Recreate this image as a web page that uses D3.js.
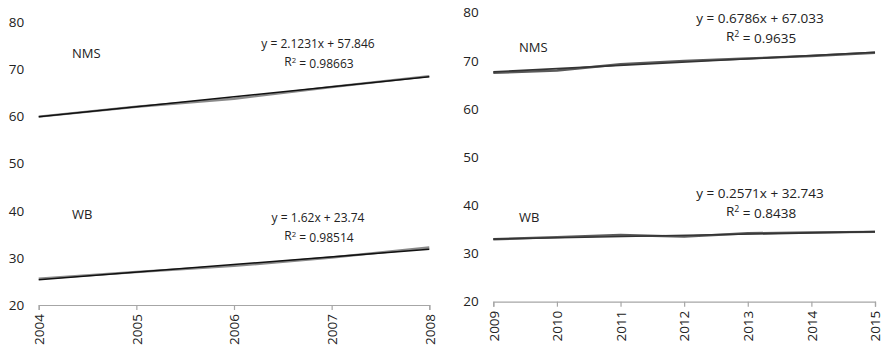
<!DOCTYPE html>
<html>
<head>
<meta charset="utf-8">
<script src="https://cdnjs.cloudflare.com/ajax/libs/d3/7.8.5/d3.min.js"></script>
<style>
    body { margin: 0; background: #fff; }
    svg text { font-family: "Open Sans", sans-serif; fill: #222; }
</style>
</head>
<body>
<svg id="chart" width="884" height="351"></svg>
<script>
// left panel, 2004-2008
const yearsA = ['2004', '2005', '2006', '2007', '2008'];
const nmsA = [60.0, 62.1, 63.8, 66.3, 68.6];
const wbA = [25.6, 27.0, 28.3, 30.1, 32.2];
const trendA = [[2.1231, 57.846, 0.98663], [1.62, 23.74, 0.98514]];

// right panel, 2009-2015
const yearsB = ['2009', '2010', '2011', '2012', '2013', '2014', '2015'];
const nmsB = [67.5, 68.0, 69.3, 70.0, 70.5, 71.0, 71.7];
const wbB = [32.95, 33.4, 33.85, 33.5, 34.2, 34.4, 34.5];
const trendB = [[0.6786, 67.033, 0.9635], [0.2571, 32.743, 0.8438]];

const yTicks = [20, 30, 40, 50, 60, 70, 80];
const seriesNames = ['NMS', 'WB'];

let svg = d3.select('#chart');

plotPanel({
    left: 38.7, right: 429.3, top: 22.5, bottom: 305,
    years: yearsA, series: [nmsA, wbA], trends: trendA,
    dataColor: '#8a8a8a', trendColor: '#111', eqSize: 12,
    nameX: 72, nameY: [53, 214], eqX: 318, eqY: [44, 218]
});

plotPanel({
    left: 493.3, right: 875, top: 12.7, bottom: 301.7,
    years: yearsB, series: [nmsB, wbB], trends: trendB,
    dataColor: '#5a5a5a', trendColor: '#333', eqSize: 13.5,
    nameX: 519, nameY: [47, 217], eqX: 760, eqY: [18, 193]
});

function plotPanel(p) {
    let g = svg.append('g');

    let x = d3.scalePoint().domain(p.years).range([p.left, p.right]);
    let y = d3.scaleLinear().domain([20, 80]).range([p.bottom, p.top]);

    // y labels, no axis line
    g.selectAll('.ylab')
        .data(yTicks)
        .enter().append('text')
        .attr('x', p.left - 14.5)
        .attr('y', d => y(d))
        .attr('dy', '0.35em')
        .attr('text-anchor', 'end')
        .style('font-size', '13.5px')
        .text(d => d);

    let xAxis = d3.axisBottom(x).tickSize(5).tickPadding(4);
    let ax = g.append('g')
        .attr('transform', 'translate(0,' + p.bottom + ')')
        .call(xAxis);
    ax.select('.domain').attr('stroke', '#a6a6a6').attr('stroke-width', 1.2);
    ax.selectAll('.tick line').attr('stroke', '#a6a6a6').attr('stroke-width', 1.2);
    ax.selectAll('.tick text')
        .attr('transform', 'rotate(-90)')
        .attr('x', -9).attr('y', 0).attr('dy', '0.35em')
        .attr('text-anchor', 'end')
        .style('font-size', '13.5px')
        .style('font-family', '"Open Sans", sans-serif')
        .attr('fill', '#222');

    let line = d3.line()
        .x((d, i) => x(p.years[i]))
        .y(d => y(d));

    p.series.forEach(function(vals, k) {
        g.append('path')
            .datum(vals)
            .attr('fill', 'none')
            .attr('stroke', p.dataColor)
            .attr('stroke-width', 2.4)
            .attr('stroke-linejoin', 'round')
            .attr('d', line);

        // linear trend from the displayed equation, x = 1..n
        let t = p.trends[k];
        let n = p.years.length;
        let ends = [[p.years[0], t[0] * 1 + t[1]], [p.years[n - 1], t[0] * n + t[1]]];
        g.append('line')
            .attr('x1', x(ends[0][0])).attr('y1', y(ends[0][1]))
            .attr('x2', x(ends[1][0])).attr('y2', y(ends[1][1]))
            .attr('stroke', p.trendColor)
            .attr('stroke-width', 1.6);

        g.append('text')
            .attr('x', p.nameX).attr('y', p.nameY[k])
            .attr('dy', '0.35em')
            .style('font-size', '13px')
            .text(seriesNames[k]);

        let eq = g.append('text')
            .attr('x', p.eqX).attr('y', p.eqY[k])
            .attr('dy', '0.35em')
            .attr('text-anchor', 'middle')
            .style('font-size', p.eqSize + 'px');
        eq.text('y = ' + t[0] + 'x + ' + t[1]);

        let r2 = g.append('text')
            .attr('x', p.eqX + 1).attr('y', p.eqY[k] + 18)
            .attr('dy', '0.35em')
            .attr('text-anchor', 'middle')
            .style('font-size', p.eqSize + 'px');
        r2.append('tspan').text('R');
        r2.append('tspan').attr('dy', '-0.4em').style('font-size', '0.65em').text('2');
        r2.append('tspan').attr('dy', '0.4em').text(' = ' + t[2]);
    });
}
</script>
</body>
</html>
